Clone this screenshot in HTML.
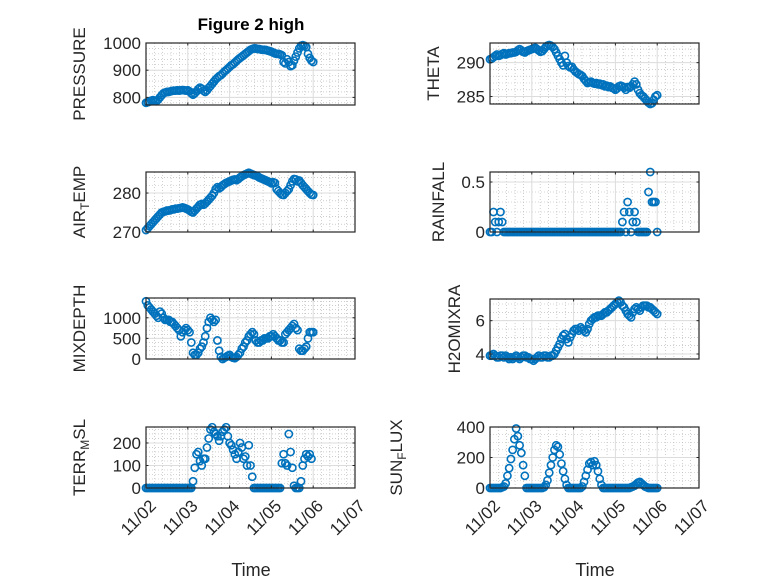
<!DOCTYPE html>
<html><head><meta charset="utf-8"><style>
html,body{margin:0;padding:0;background:#fff;}
svg{display:block;font-family:"Liberation Sans",sans-serif;}
</style></head><body>
<svg id="fig" width="778" height="583" viewBox="0 0 778 583" xmlns="http://www.w3.org/2000/svg">
<rect x="0" y="0" width="778" height="583" fill="#fff"/>
<text x="251" y="30" text-anchor="middle" font-size="17" font-weight="bold" fill="#000">Figure 2 high</text>
<text x="251" y="576" text-anchor="middle" font-size="18" fill="#262626">Time</text>
<text x="595" y="576" text-anchor="middle" font-size="18" fill="#262626">Time</text>
</svg>
<script>
const dayLabels = ["11/02","11/03","11/04","11/05","11/06","11/07"];
const pressure = [780,782,785,788,790,788,786,792,800,808,815,818,820,820,822,824,825,825,826,825,826,827,826,825,826,822,815,810,815,822,830,836,832,825,820,826,835,842,850,858,866,872,878,882,888,895,900,906,912,918,922,928,934,940,945,950,955,960,965,970,975,978,980,980,978,978,976,975,975,974,972,970,968,965,962,960,960,958,955,930,925,940,930,915,918,935,950,965,980,990,992,990,985,960,945,935,930];
const theta = [290.5,290.6,290.8,291,291.2,291,291.1,291.3,291.4,291.2,291.3,291.4,291.4,291.5,291.5,291.6,291.8,292,291.8,291.6,291.5,291.7,291.8,291.9,292,292.1,292.2,292,291.8,291.6,291.7,292,292.3,292.5,292.6,292.5,292.3,292,291.5,291,290.5,290,289.6,291,290,289.5,289.3,289.4,289,288.7,288.5,288.3,288.2,288,287.6,287.3,287,287.1,287.2,287,286.9,287,286.8,286.9,286.7,286.8,286.5,286.6,286.4,286.5,286.3,286.2,286,286.2,286.5,286.6,286.5,286.3,286,286.4,286.3,286.5,286.8,287.2,286.8,286,285.5,285.2,285,284.7,284.4,284.1,283.9,284,284.5,285,285.2];
const airTemp = [270.5,271,271.5,272,272.5,273,273.5,274,274.5,275,275.2,275.3,275.5,275.5,275.6,275.8,275.8,276,276,276.1,276.2,276.3,276.2,276,275.8,275.5,275.2,275,275.5,276,276.5,277,277.2,277,277.3,277.8,278.3,278.8,279.3,280,281,281.5,281.2,281.5,282,282.3,282.6,282.8,283,283.2,283.4,283.5,283.3,283.6,284,284.3,284.6,284.8,285,285.2,285,284.8,284.6,284.5,284.3,284,283.8,283.6,283.4,283.2,283,282.8,282.5,282.8,282.6,281,280.5,280,279.6,279.5,280,280.5,281,282,283,283.6,283.5,283,283.2,282.6,282,281.5,281,280.5,280,279.6,279.5];
const rainfall = [0,0,0.2,0.1,0,0.1,0.2,0.1,0,0,0,0,0,0,0,0,0,0,0,0,0,0,0,0,0,0,0,0,0,0,0,0,0,0,0,0,0,0,0,0,0,0,0,0,0,0,0,0,0,0,0,0,0,0,0,0,0,0,0,0,0,0,0,0,0,0,0,0,0,0,0,0,0,0,0,0,0.1,0.2,0,0.3,0.2,0,0.1,0.2,0.1,0,0,0,0,0,0,0.4,0.6,0.3,0.3,0.3,0];
const mixDepth = [1400,1300,1250,1200,1150,1100,1050,1000,1150,1100,1000,950,950,950,900,900,850,800,750,700,550,650,700,750,700,650,400,150,100,100,150,250,300,400,550,750,900,1000,950,900,950,450,200,50,0,30,50,80,100,50,30,20,50,100,150,250,300,400,450,550,600,650,600,450,400,400,450,450,500,500,500,550,550,600,550,500,450,450,400,400,600,650,700,750,800,850,750,700,250,200,200,250,300,500,650,650,650];
const h2oMix = [3.9,3.9,4.0,3.9,3.8,3.8,3.9,3.9,3.8,3.9,3.8,3.7,3.8,3.7,3.8,3.9,3.8,3.7,3.8,3.9,3.9,3.8,3.8,3.7,3.7,3.6,3.7,3.8,3.9,3.8,3.8,3.9,3.9,3.8,3.8,3.9,3.9,4.0,4.2,4.4,4.6,4.9,5.1,5.2,4.9,4.7,5.0,5.2,5.4,5.5,5.5,5.4,5.6,5.5,5.4,5.3,5.5,5.8,6.0,6.1,6.2,6.2,6.3,6.3,6.3,6.4,6.5,6.5,6.6,6.7,6.8,6.9,7.0,7.1,7.2,7.1,6.9,6.8,6.6,6.4,6.3,6.2,6.5,6.7,6.8,6.7,6.6,6.8,6.9,6.9,6.9,6.8,6.8,6.7,6.6,6.5,6.4];
const terrMsl = [0,0,0,0,0,0,0,0,0,0,0,0,0,0,0,0,0,0,0,0,0,0,0,0,0,0,0,30,90,150,160,120,100,130,130,180,220,260,270,250,240,230,210,230,250,260,270,230,200,190,170,150,130,160,200,180,130,140,100,190,100,50,0,0,0,0,0,0,0,0,0,0,0,0,0,0,0,0,110,150,110,100,240,160,90,10,0,0,0,30,100,130,150,140,150,130];
const sunFlux = [0,0,0,0,0,0,0,5,10,30,80,130,190,250,320,390,340,280,230,150,80,0,0,0,0,0,0,0,0,0,0,5,20,50,100,150,200,250,280,270,220,160,110,60,20,0,0,0,0,0,0,0,0,10,40,80,120,160,170,150,175,150,110,60,20,0,0,0,0,0,0,0,0,0,0,0,0,0,0,0,0,5,10,15,25,35,40,30,20,10,5,0,0,0,0,0,0];

const NS="http://www.w3.org/2000/svg";
const svg=document.getElementById('fig');
function mk(tag,attrs,parent){const e=document.createElementNS(NS,tag);for(const k in attrs)e.setAttribute(k,attrs[k]);(parent||svg).appendChild(e);return e;}

const panels=[
 {name:'pressure',data:pressure,x0:146,x1:355,y0:43,y1:105,ymin:772,ymax:1000,ticks:[800,900,1000],minor:20,label:['PRESSURE'],lx:85,bottom:false},
 {name:'theta',data:theta,x0:490,x1:699,y0:43,y1:104,ymin:283.9,ymax:292.9,ticks:[285,290],minor:1,label:['THETA'],lx:439,bottom:false},
 {name:'air-temp',data:airTemp,x0:146,x1:355,y0:172,y1:232,ymin:270,ymax:285.4,ticks:[270,280],minor:2,label:['AIR','T','EMP'],lx:85,bottom:false},
 {name:'rainfall',data:rainfall,x0:490,x1:699,y0:172,y1:232,ymin:0,ymax:0.6,ticks:[0,0.5],minor:0.1,label:['RAINFALL'],lx:444,bottom:false},
 {name:'mixdepth',data:mixDepth,x0:146,x1:355,y0:298,y1:359,ymin:0,ymax:1480,ticks:[0,500,1000],minor:100,label:['MIXDEPTH'],lx:85,bottom:false},
 {name:'h2omixra',data:h2oMix,x0:490,x1:699,y0:299,y1:359,ymin:3.7,ymax:7.3,ticks:[4,6],minor:0.5,label:['H2OMIXRA'],lx:460,bottom:false},
 {name:'terr-msl',data:terrMsl,x0:146,x1:355,y0:427,y1:488,ymin:0,ymax:271,ticks:[0,100,200],minor:20,label:['TERR','M','SL'],lx:85,bottom:true},
 {name:'sun-flux',data:sunFlux,x0:490,x1:699,y0:427,y1:488,ymin:0,ymax:400,ticks:[0,200,400],minor:50,label:['SUN','F','LUX'],lx:402,bottom:true}
];

panels.forEach(p=>{
 const g=mk('g',{});
 
 
 const sx=h=>p.x0+h/120*(p.x1-p.x0);
 const sy=v=>p.y1-(v-p.ymin)/(p.ymax-p.ymin)*(p.y1-p.y0);
 mk('rect',{x:p.x0,y:p.y0,width:p.x1-p.x0,height:p.y1-p.y0,fill:'#fff'},g);
 for(let d=0;d<5;d++)for(let k=1;k<5;k++){const x=sx(d*24+k*24/5);mk('line',{x1:x,x2:x,y1:p.y0,y2:p.y1,stroke:'#b0b0b0','stroke-width':0.6,'stroke-dasharray':'1,2'},g);}
 for(let v=Math.ceil(p.ymin/p.minor)*p.minor;v<p.ymax;v+=p.minor){const y=sy(v);if(y<p.y0+0.5||y>p.y1-0.5)continue;mk('line',{x1:p.x0,x2:p.x1,y1:y,y2:y,stroke:'#b0b0b0','stroke-width':0.6,'stroke-dasharray':'1,2'},g);}
 for(let d=1;d<5;d++){const x=sx(d*24);mk('line',{x1:x,x2:x,y1:p.y0,y2:p.y1,stroke:'#dcdcdc','stroke-width':1},g);}
 p.ticks.forEach(t=>{const y=sy(t);mk('line',{x1:p.x0,x2:p.x1,y1:y,y2:y,stroke:'#dcdcdc','stroke-width':1},g);});
 p.data.forEach((v,h)=>{
  const c=mk('circle',{cx:sx(h),cy:sy(v),r:3.6,fill:'none',stroke:'#0072BD','stroke-width':1.6},g);
  
  
 });
 mk('rect',{x:p.x0,y:p.y0,width:p.x1-p.x0,height:p.y1-p.y0,fill:'none',stroke:'#262626','stroke-width':1.2},g);
 dayLabels.forEach((lab,d)=>{
  const x=sx(d*24);
  mk('line',{x1:x,x2:x,y1:p.y1,y2:p.y1-2.5,stroke:'#262626','stroke-width':1},g);
  mk('line',{x1:x,x2:x,y1:p.y0,y2:p.y0+2.5,stroke:'#262626','stroke-width':1},g);
  if(p.bottom){
   const tx=x+11, ty=p.y1+19;
   const t=mk('text',{x:tx,y:ty,'text-anchor':'end','font-size':17,fill:'#262626',transform:`rotate(-45 ${tx} ${ty})`},g);
   t.textContent=lab;
   
   
  }
 });
 p.ticks.forEach(tv=>{
  const y=sy(tv);
  mk('line',{x1:p.x0,x2:p.x0+2.5,y1:y,y2:y,stroke:'#262626','stroke-width':1},g);
  mk('line',{x1:p.x1,x2:p.x1-2.5,y1:y,y2:y,stroke:'#262626','stroke-width':1},g);
  const t=mk('text',{x:p.x0-5,y:y+6,'text-anchor':'end','font-size':17,fill:'#262626'},g);
  t.textContent=String(tv);
  
  
 });
 const cy=(p.y0+p.y1)/2;
 const lt=mk('text',{x:p.lx,y:cy,'text-anchor':'middle','font-size':17,fill:'#262626',transform:`rotate(-90 ${p.lx} ${cy})`},g);
 
 
 p.label.forEach((s,i)=>{
  const ts=mk('tspan',{},lt);
  if(i===1){ts.setAttribute('font-size','12');ts.setAttribute('dy','4');}
  if(i===2){ts.setAttribute('dy','-4');}
  ts.textContent=s;
 });
});
</script>
</body></html>
